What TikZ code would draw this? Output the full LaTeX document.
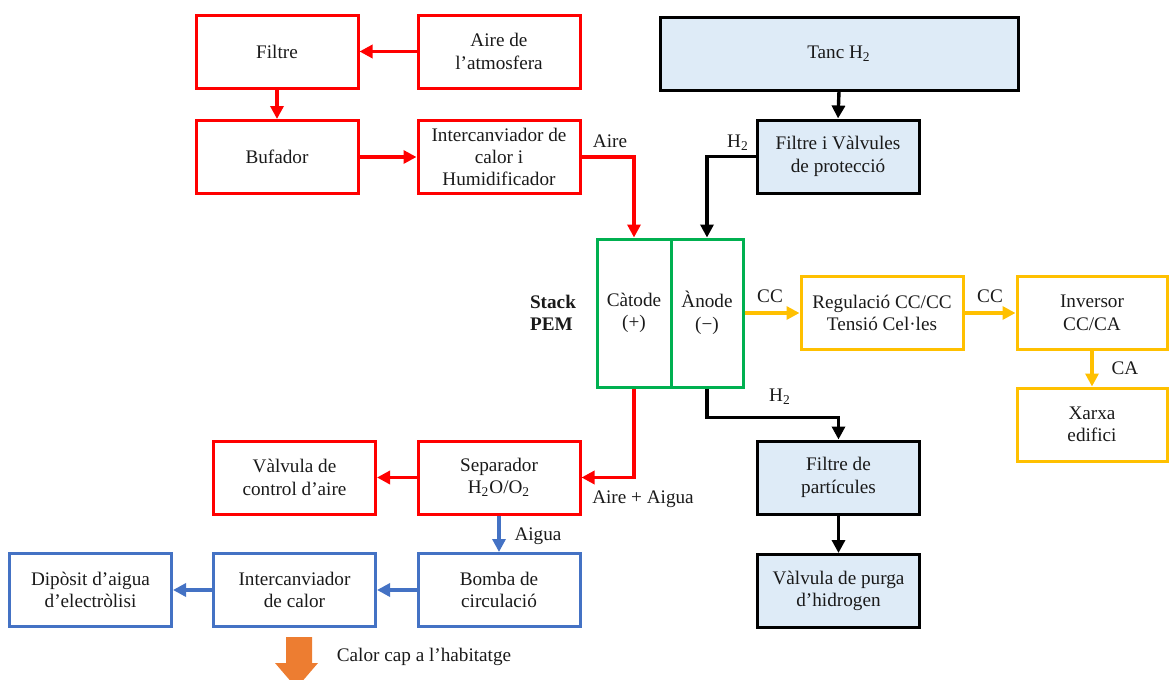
\documentclass[tikz,border=0pt]{standalone}
\usepackage{fontspec}
\setmainfont{Liberation Serif}
\usetikzlibrary{arrows.meta}
\definecolor{cred}{HTML}{FF0000}
\definecolor{cgreen}{HTML}{00B050}
\definecolor{cyel}{HTML}{FFC000}
\definecolor{cblue}{HTML}{4472C4}
\definecolor{cfill}{HTML}{DEEBF7}
\definecolor{corange}{HTML}{ED7D31}
\definecolor{ctext}{HTML}{1A1A1A}
\begin{document}
\begin{tikzpicture}[x=0.5pt,y=-0.5pt,
  every node/.style={font=\fontsize{9.6}{11.2}\selectfont, text=ctext},
  blk/.style={draw, line width=1.5pt, align=center, minimum width=81pt, minimum height=36.5pt, inner sep=1pt},
  redbox/.style={blk, draw=cred},
  bluebox/.style={blk, draw=cblue},
  yelbox/.style={blk, draw=cyel},
  h2box/.style={blk, draw=black, fill=cfill},
  cell/.style={draw=cgreen, line width=1.5pt, align=center, minimum height=74pt, inner sep=1pt},
  flow/.style={line width=1.7pt, -{Triangle[length=6.5pt,width=6.5pt]}},
  lbl/.style={inner sep=0pt}]
\useasboundingbox (0,0) rectangle (1169,680);
\clip (0,0) rectangle (1169,680);

% air supply line
\node[redbox] (filtre) at (277,51.5) {Filtre};
\node[redbox] (aire) at (499,51.5) {Aire de\\l’atmosfera};
\node[redbox] (bufador) at (277,157) {Bufador};
\node[redbox] (humid) at (499,157) {Intercanviador de\\calor i\\Humidificador};

% hydrogen supply line
\node[h2box, minimum width=179pt] (tanc) at (839,53.5) {Tanc H\textsubscript{2}};
\node[h2box] (valv) at (838,156.5) {Filtre i Vàlvules\\de protecció};

% fuel cell stack
\node[cell, minimum width=37pt] (catode) at (634,313) {Càtode\\(+)};
\node[cell, minimum width=36pt] (anode) at (707,313) {Ànode\\(−)};
\node[align=left, font=\fontsize{9.6}{11.2}\selectfont\bfseries] (stack) at (553,313) {Stack\\PEM};

% electrical chain
\node[yelbox] (regul) at (882,313) {Regulació CC/CC\\Tensió Cel·les};
\node[yelbox, minimum width=75pt] (inversor) at (1092,313) {Inversor\\CC/CA};
\node[yelbox, minimum width=75pt] (xarxa) at (1092,424.5) {Xarxa\\edifici};

% hydrogen exhaust
\node[h2box] (fpart) at (838.5,477.5) {Filtre de\\partícules};
\node[h2box] (purga) at (838.5,591) {Vàlvula de purga\\d’hidrogen};

% air and water exhaust
\node[redbox] (separador) at (499,477.5) {Separador\\H\textsubscript{2}O/O\textsubscript{2}};
\node[redbox] (vcontrol) at (294.5,477.5) {Vàlvula de\\control d’aire};
\node[bluebox] (bomba) at (499,590) {Bomba de\\circulació};
\node[bluebox] (intercal) at (294.5,590) {Intercanviador\\de calor};
\node[bluebox] (diposit) at (90.5,590) {Dipòsit d’aigua\\d’electròlisi};

% connectors
\draw[flow, cred] (aire.west) -- (filtre.east);
\draw[flow, cred] (filtre.south) -- (bufador.north);
\draw[flow, cred] (bufador.east) -- (humid.west);
\draw[flow, cred] (humid.east) -| (catode.north);
\draw[flow, black] (tanc.south) -- (valv.north);
\draw[flow, black] (valv.west) -| (anode.north);
\draw[flow, cyel] (anode.east) -- (regul.west);
\draw[flow, cyel] (regul.east) -- (inversor.west);
\draw[flow, cyel] (inversor.south) -- (xarxa.north);
\draw[flow, black] (anode.south) -- ++(0,29) -| (fpart.north);
\draw[flow, black] (fpart.south) -- (purga.north);
\draw[flow, cred] (catode.south) |- (separador.east);
\draw[flow, cred] (separador.west) -- (vcontrol.east);
\draw[flow, cblue] (separador.south) -- (bomba.north);
\draw[flow, cblue] (bomba.west) -- (intercal.east);
\draw[flow, cblue] (intercal.west) -- (diposit.east);

% flow labels
\node[lbl] (laire) at (610,141) {Aire};
\node[lbl] (lh2a) at (738,143) {H\textsubscript{2}};
\node[lbl] (lcc1) at (770,296) {CC};
\node[lbl] (lcc2) at (990,296) {CC};
\node[lbl] (lca) at (1125,368) {CA};
\node[lbl] (lh2b) at (780,397) {H\textsubscript{2}};
\node[lbl] (lairea) at (643,499) {Aire + Aigua};
\node[lbl] (laigua) at (538,536) {Aigua};

% heat output arrow
\fill[corange] (286,637) -- (312,637) -- (312,663) -- (318,663) -- (296.5,688)
  -- (275,663) -- (286,663) -- cycle;
\node[lbl] (lcalor) at (424,657) {Calor cap a l’habitatge};
\end{tikzpicture}
\end{document}
